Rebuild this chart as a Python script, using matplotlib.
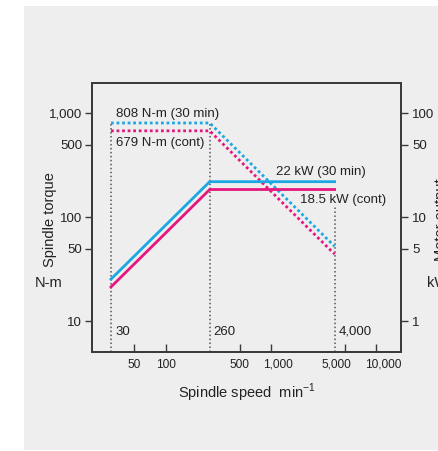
import numpy as np
import matplotlib.pyplot as plt
from matplotlib.patches import Rectangle
from matplotlib.transforms import ScaledTranslation
from matplotlib.ticker import FixedLocator, FixedFormatter, NullLocator

plt.rcParams['font.family'] = ['Liberation Sans', 'DejaVu Sans']

# spindle speed breakpoints (min^-1)
speed = [30, 260, 4000]
# torque curves (N-m)
torque_30min = [808, 808, 808 * 260 / 4000]
torque_cont = [679, 679, 679 * 260 / 4000]
# power curves (kW)
power_30min = [22 * 30 / 260, 22, 22]
power_cont = [18.5 * 30 / 260, 18.5, 18.5]
# vertical guide tops (N-m)
guide_top = [808, 808, 125]

x_ticks = [50, 100, 500, 1000, 5000, 10000]
x_labels = ['50', '100', '500', '1,000', '5,000', '10,000']
x_label_shift = [0, 0, 0, 7, -8, 7]  # px, labels sit off-centre in the original
yl_ticks = [10, 50, 100, 500, 1000]
yl_labels = ['10', '50', '100', '500', '1,000']
yr_ticks = [1, 5, 10, 50, 100]
yr_labels = ['1', '5', '10', '50', '100']

blue = '#1ba8e2'
pink = '#e5177e'
gray_bg = '#eeeeee'
dark = '#3a3a3a'

W, H = 439, 451
fig = plt.figure(figsize=(W / 100, H / 100), dpi=100, facecolor='white')
fig.patches.append(Rectangle((24 / W, 1 - 450 / H), 1 - 24 / W, (450 - 6) / H,
                             transform=fig.transFigure, facecolor=gray_bg,
                             edgecolor='none', zorder=-5))

ax = fig.add_axes([92 / W, 1 - 352 / H, (401 - 92) / W, (352 - 83) / H])
ax.set_facecolor(gray_bg)
ax.set_xscale('log')
ax.set_yscale('log')
ax.set_xlim(19.8, 17100)
ax.set_ylim(5.05, 1960)

ax2 = ax.twinx()
ax2.set_yscale('log')
ax2.set_ylim(0.505, 196)

# guide lines
for s, top in zip(speed, guide_top):
    ax.plot([s, s], [5.05, top], color='#555555', lw=1.1, ls=(0, (1, 1.6)), zorder=1)

# torque (dotted)
ax.plot(speed, torque_30min, color=blue, lw=2, ls=(0, (1, 1)), zorder=3)
ax.plot(speed, torque_cont, color=pink, lw=2, ls=(0, (1, 1)), zorder=3)
# power (solid)
ax2.plot(speed, power_30min, color=blue, lw=2, zorder=3)
ax2.plot(speed, power_cont, color=pink, lw=2, zorder=3)

fs = 9.5
xfs = 8.6
lfs = 10.5
tc = '#222222'
ax.xaxis.set_major_locator(FixedLocator(x_ticks))
ax.xaxis.set_major_formatter(FixedFormatter(x_labels))
ax.xaxis.set_minor_locator(NullLocator())
ax.yaxis.set_major_locator(FixedLocator(yl_ticks))
ax.yaxis.set_major_formatter(FixedFormatter(yl_labels))
ax.yaxis.set_minor_locator(NullLocator())
ax2.yaxis.set_major_locator(FixedLocator(yr_ticks))
ax2.yaxis.set_major_formatter(FixedFormatter(yr_labels))
ax2.yaxis.set_minor_locator(NullLocator())

ax.tick_params(axis='x', direction='in', length=6, width=1, color=dark,
               labelsize=xfs, pad=5, labelcolor=tc)
ax.tick_params(axis='y', direction='out', length=5, width=1, color=dark,
               labelsize=fs, pad=2, labelcolor=tc)
ax2.tick_params(axis='y', direction='out', length=5, width=1, color=dark,
                labelsize=fs, pad=3, labelcolor=tc)

for lab, dx in zip(ax.get_xticklabels(), x_label_shift):
    lab.set_transform(lab.get_transform() + ScaledTranslation(dx / 100, 0, fig.dpi_scale_trans))

for a in (ax, ax2):
    for sp in a.spines.values():
        sp.set_color(dark)
        sp.set_linewidth(1.3)

fig.text(116 / W, 1 - 114 / H, '808 N-m (30 min)', fontsize=fs, color=tc, va='center')
fig.text(116 / W, 1 - 143 / H, '679 N-m (cont)', fontsize=fs, color=tc, va='center')
fig.text(276 / W, 1 - 172 / H, '22 kW (30 min)', fontsize=fs, color=tc, va='center')
fig.text(300 / W, 1 - 200 / H, '18.5 kW (cont)', fontsize=fs, color=tc, va='center')
fig.text(115 / W, 1 - 332 / H, '30', fontsize=fs, color=tc, va='center')
fig.text(213 / W, 1 - 332 / H, '260', fontsize=fs, color=tc, va='center')
fig.text(339 / W, 1 - 332 / H, '4,000', fontsize=fs, color=tc, va='center')

fig.text(50 / W, 1 - 220 / H, 'Spindle torque', fontsize=lfs, color=tc, rotation=90,
         ha='center', va='center')
fig.text(49 / W, 1 - 283 / H, 'N-m', fontsize=lfs, color=tc, ha='center', va='center')
fig.text(441 / W, 1 - 220 / H, 'Motor output', fontsize=lfs, color=tc, rotation=90,
         ha='center', va='center')
fig.text(427 / W, 1 - 283 / H, 'kW', fontsize=lfs, color=tc, ha='left', va='center')
fig.text(247 / W, 1 - 393 / H, r'Spindle speed  min$^{\mathregular{-1}}$', fontsize=lfs,
         color=tc, ha='center', va='center')

fig.savefig('out.png', dpi=100)
